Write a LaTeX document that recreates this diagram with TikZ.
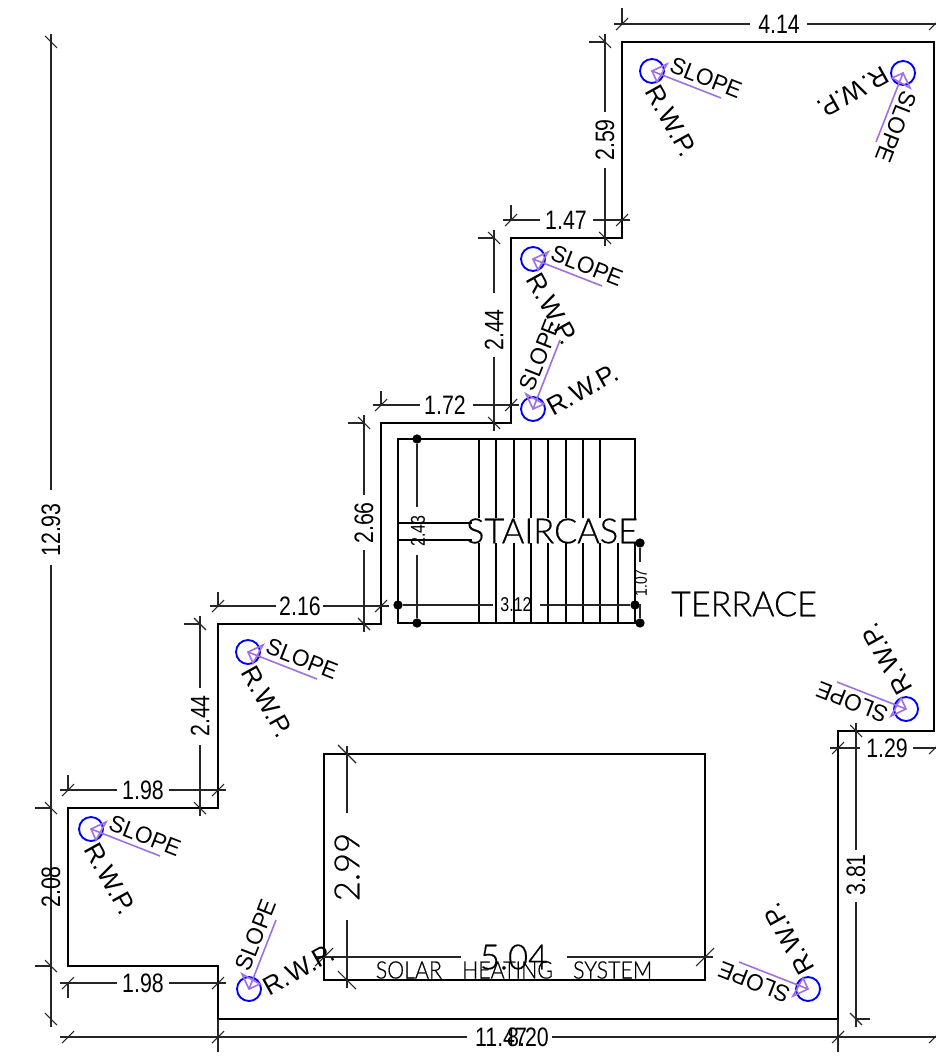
\documentclass[tikz,border=0pt]{standalone}
\usepackage{fontspec}
\setmainfont{Liberation Sans}
\newfontfamily\lightf[UprightFont={* Light},UprightFeatures={RawFeature={embolden=0.5}}]{Lato}
\tikzset{
  x=0.75pt,y=-0.75pt,
  wall/.style={line width=1.5pt,black,line join=miter},
  stairline/.style={line width=1.25pt,black},
  dimline/.style={line width=0.8pt,black!85},
  dimtext/.style={inner sep=0pt,anchor=center,black},
  rwpcirc/.style={circle,draw=blue,line width=1.4pt,minimum size=18pt,inner sep=0pt},
  slopeline/.style={line width=1.2pt,color=slopepurple,line join=miter},
  rwptext/.style={inner sep=0pt,anchor=center,font=\fontsize{17.5}{18}\selectfont},
  rwptextb/.style={inner sep=0pt,anchor=center,font=\fontsize{19.5}{20}\selectfont},
  dimdot/.style={circle,fill=black,inner sep=0pt,minimum size=7pt},
}
\definecolor{slopepurple}{HTML}{A070E0}
\newcommand\dl[1]{\fontsize{20}{20}\selectfont\scalebox{.8}[1]{#1}}
\newcommand\dsmall[2]{\fontsize{#1}{#1}\selectfont\scalebox{.8}[1]{#2}}
\newcommand\dbig[2][1]{{\fontsize{26}{26}\selectfont\lightf\scalebox{#1}[1]{#2}}}
\def\tk{6}
% name, y, x1, x2, text x, gap from, gap to, text
\newcommand\hdim[8]{%
  \coordinate (#1g) at (#6,#2); \coordinate (#1h) at (#7,#2);
  \draw[dimline] ({#3-8},#2) -- (#1g) (#1h) -- ({#4+8},#2);
  \draw[dimline] ({#3-\tk},{#2+\tk}) -- ({#3+\tk},{#2-\tk});
  \draw[dimline] ({#4-\tk},{#2+\tk}) -- ({#4+\tk},{#2-\tk});
  \node[dimtext] (#1t) at (#5,#2) {#8};
}
% name, x, y1, y2, text y, gap from, gap to, text
\newcommand\vdim[8]{%
  \coordinate (#1g) at (#2,#6); \coordinate (#1h) at (#2,#7);
  \draw[dimline] (#2,{#3-8}) -- (#1g) (#1h) -- (#2,{#4+8});
  \draw[dimline] ({#2-\tk},{#3-\tk}) -- ({#2+\tk},{#3+\tk});
  \draw[dimline] ({#2-\tk},{#4-\tk}) -- ({#2+\tk},{#4+\tk});
  \node[dimtext,rotate=90] (#1t) at (#2,#5) {#8};
}
% name, x, y, rotation
\newcommand\rwp[4]{%
  \begin{scope}[shift={(#2,#3)},rotate=#4]
    \node[rwpcirc] (#1c) at (0,0) {};
    \coordinate (#1tail) at (69,27);
    \coordinate (#1p) at (15,-7);
    \coordinate (#1q) at (5,11);
    \draw[slopeline] (#1tail) -- (#1c.center);
    \draw[slopeline] (#1c.center) -- (#1p) -- (#1q) -- cycle;
    \node[rwptext,rotate={#4-21.4}] (#1s) at (54,7) {\scalebox{.96}[1]{SLOPE}};
    \node[rwptextb,rotate={#4-61}] (#1r) at (19.5,50) {R.W.P.};
  \end{scope}
}
\begin{document}
\begin{tikzpicture}
\useasboundingbox (0,0) rectangle (935,1062);
\fill[white] (0,0) rectangle (935,1062);
% walls
\draw[wall] (934,42) -- (622,42) -- (622,238) -- (511,238) -- (511,423) -- (381,423) -- (381,624) -- (218,624) -- (218,808) -- (68,808) -- (68,966) -- (218,966) -- (218,1019) -- (838,1019) -- (838,731) -- (934,731) -- cycle;
% staircase
\draw[stairline] (398,439) rectangle (635,623);
\foreach \sx in {479,496,514,531,548,566,583,600,635}
  \draw[stairline] (\sx,439) -- (\sx,518) (\sx,543) -- (\sx,623);
\draw[stairline] (618,543) -- (618,623);
\draw[stairline] (398,523) -- (472,523) (398,540) -- (472,540);
\fill[white] (629,519) rectangle (641,542);
% staircase dims
\node[dimdot] (da) at (417,439) {};
\node[dimdot] (db) at (417,623) {};
\node[dimtext,rotate=90] (d243) at (418,531) {\dsmall{15}{2.43}};
\coordinate (d243g) at (417,507); \coordinate (d243h) at (417,555);
\draw[dimline] (da) -- (d243g) (d243h) -- (db);
\node[dimdot] (dc) at (398,605) {};
\node[dimdot] (dd) at (635,605) {};
\node[dimtext] (d312) at (516,605) {\dsmall{15}{3.12}};
\coordinate (d312g) at (493,605); \coordinate (d312h) at (540,605);
\draw[dimline] (dc) -- (d312g) (d312h) -- (dd);
\node[dimdot] (de) at (640,543) {};
\node[dimdot] (df) at (640,623) {};
\node[dimtext,rotate=90] (d107) at (641,583) {\dsmall{13}{1.07}};
\coordinate (d107g) at (640,562); \coordinate (d107h) at (640,604);
\draw[dimline] (de) -- (d107g) (d107h) -- (df);
\node[dimtext] (stair) at (552,531) {\dbig[.99]{STAIRCASE}};
\node[dimtext] (terr) at (744,604) {\dbig[.985]{TERRACE}};
% solar box
\draw[stairline] (324,754) rectangle (705,980);
\node[dimtext] (solar) at (514,970) {\fontsize{18}{18}\selectfont\lightf\scalebox{.89}[1]{SOLAR\hspace*{17pt}HEATING\hspace*{17pt}SYSTEM}};
% horizontal dims
\hdim{a}{24}{622}{935}{779}{750}{807}{\dl{4.14}}
\draw[dimline] (622,8) -- (622,24);
\hdim{b}{220}{511}{622}{566}{540}{593}{\dl{1.47}}
\draw[dimline] (511,205) -- (511,220);
\hdim{c}{405}{381}{511}{445}{420}{473}{\dl{1.72}}
\draw[dimline] (381,391) -- (381,405);
\hdim{d}{606}{218}{381}{300}{276}{323}{\dl{2.16}}
\draw[dimline] (218,592) -- (218,606);
\hdim{e}{790}{68}{218}{143}{117}{169}{\dl{1.98}}
\draw[dimline] (68,775) -- (68,790);
\hdim{f}{983}{68}{218}{143}{117}{169}{\dl{1.98}}
\draw[dimline] (68,983) -- (68,998);
\hdim{g}{748}{838}{935}{887}{860}{913}{\dl{1.29}}
\hdim{h}{1037}{68}{935}{501}{467}{552}{\dl{11.47}}
\hdim{i}{1037}{218}{838}{528}{467}{552}{\dl{8.20}}
\draw[dimline,line width=1.2pt] (218,1019) -- (218,1052) (838,1019) -- (838,1052);
% vertical dims
\vdim{j}{605}{42}{238}{140}{112}{168}{\dl{2.59}}
\draw[dimline] (589,42) -- (605,42);
\vdim{k}{494}{238}{423}{330}{293}{357}{\dl{2.44}}
\draw[dimline] (478,238) -- (494,238);
\vdim{l}{364}{423}{624}{523}{495}{550}{\dl{2.66}}
\draw[dimline] (348,423) -- (364,423);
\vdim{m}{200}{624}{808}{716}{688}{745}{\dl{2.44}}
\draw[dimline] (184,624) -- (200,624);
\vdim{n}{51}{42}{1019}{530}{490}{565}{\dl{12.93}}
\vdim{o}{51}{808}{966}{887}{865}{910}{\dl{2.08}}
\draw[dimline] (35,808) -- (51,808) (35,966) -- (51,966);
\vdim{p}{856}{731}{1019}{875}{850}{902}{\dl{3.81}}
\draw[dimline] (856,1019) -- (870,1019);
\def\tk{9}
\vdim{q}{347}{754}{980}{867}{813}{920}{\dbig{2.99}}
\hdim{r}{957}{324}{705}{514}{461}{567}{\dbig{5.04}}
\def\tk{6}
% rain water pipes
\rwp{w1}{652}{71}{0}
\rwp{w2}{903}{73}{-90}
\rwp{w3}{533}{259}{0}
\rwp{w4}{533}{409}{90}
\rwp{w5}{248}{652}{0}
\rwp{w6}{906}{709}{180}
\rwp{w7}{91}{829}{0}
\rwp{w8}{249}{989}{90}
\rwp{w9}{808}{989}{180}
\end{tikzpicture}
\end{document}
